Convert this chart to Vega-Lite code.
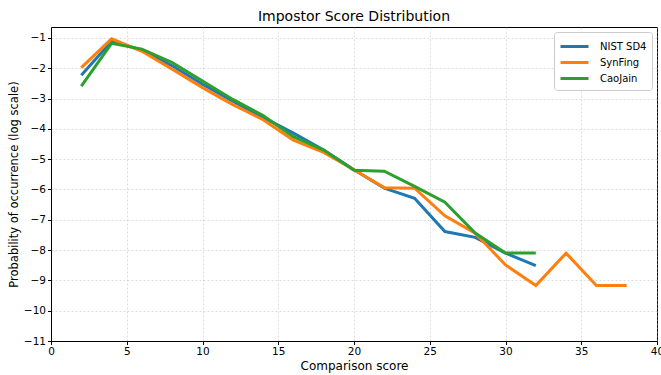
{
  "$schema": "https://vega.github.io/schema/vega-lite/v6.json",
  "width": 606,
  "height": 314,
  "autosize": "none",
  "padding": {"left": 51, "top": 27, "right": 4, "bottom": 34},
  "background": "white",
  "title": {"text": "Impostor Score Distribution", "fontSize": 14, "font": "DejaVu Sans", "fontWeight": "normal", "color": "#000", "offset": 3},
  "config": {
    "font": "DejaVu Sans",
    "view": {"stroke": "#000", "strokeWidth": 1}
  },
  "data": {"values": [
    {"s": "NIST SD4", "x": 2, "y": -2.23},
    {"s": "NIST SD4", "x": 4, "y": -1.11},
    {"s": "NIST SD4", "x": 6, "y": -1.4},
    {"s": "NIST SD4", "x": 8, "y": -1.92},
    {"s": "NIST SD4", "x": 10, "y": -2.53},
    {"s": "NIST SD4", "x": 12, "y": -3.09},
    {"s": "NIST SD4", "x": 14, "y": -3.62},
    {"s": "NIST SD4", "x": 16, "y": -4.14},
    {"s": "NIST SD4", "x": 18, "y": -4.7},
    {"s": "NIST SD4", "x": 20, "y": -5.35},
    {"s": "NIST SD4", "x": 22, "y": -5.96},
    {"s": "NIST SD4", "x": 24, "y": -6.29},
    {"s": "NIST SD4", "x": 26, "y": -7.39},
    {"s": "NIST SD4", "x": 28, "y": -7.58},
    {"s": "NIST SD4", "x": 30, "y": -8.1},
    {"s": "NIST SD4", "x": 32, "y": -8.51},
    {"s": "SynFing", "x": 2, "y": -1.98},
    {"s": "SynFing", "x": 4, "y": -1.03},
    {"s": "SynFing", "x": 6, "y": -1.44},
    {"s": "SynFing", "x": 8, "y": -2.03},
    {"s": "SynFing", "x": 10, "y": -2.64},
    {"s": "SynFing", "x": 12, "y": -3.2},
    {"s": "SynFing", "x": 14, "y": -3.7},
    {"s": "SynFing", "x": 16, "y": -4.37},
    {"s": "SynFing", "x": 18, "y": -4.78},
    {"s": "SynFing", "x": 20, "y": -5.35},
    {"s": "SynFing", "x": 22, "y": -5.94},
    {"s": "SynFing", "x": 24, "y": -5.96},
    {"s": "SynFing", "x": 26, "y": -6.87},
    {"s": "SynFing", "x": 28, "y": -7.44},
    {"s": "SynFing", "x": 30, "y": -8.49},
    {"s": "SynFing", "x": 32, "y": -9.17},
    {"s": "SynFing", "x": 34, "y": -8.1},
    {"s": "SynFing", "x": 36, "y": -9.17},
    {"s": "SynFing", "x": 38, "y": -9.17},
    {"s": "CaoJain", "x": 2, "y": -2.59},
    {"s": "CaoJain", "x": 4, "y": -1.18},
    {"s": "CaoJain", "x": 6, "y": -1.37},
    {"s": "CaoJain", "x": 8, "y": -1.81},
    {"s": "CaoJain", "x": 10, "y": -2.42},
    {"s": "CaoJain", "x": 12, "y": -3.03},
    {"s": "CaoJain", "x": 14, "y": -3.56},
    {"s": "CaoJain", "x": 16, "y": -4.26},
    {"s": "CaoJain", "x": 18, "y": -4.7},
    {"s": "CaoJain", "x": 20, "y": -5.37},
    {"s": "CaoJain", "x": 22, "y": -5.4},
    {"s": "CaoJain", "x": 24, "y": -5.9},
    {"s": "CaoJain", "x": 26, "y": -6.42},
    {"s": "CaoJain", "x": 28, "y": -7.44},
    {"s": "CaoJain", "x": 30, "y": -8.1},
    {"s": "CaoJain", "x": 32, "y": -8.1}
  ]},
  "mark": {"type": "line", "strokeWidth": 3, "clip": true},
  "encoding": {
    "x": {
      "field": "x", "type": "quantitative",
      "scale": {"domain": [0, 40], "nice": false, "zero": false},
      "axis": {
        "title": "Comparison score", "titleFontSize": 12, "titleFontWeight": "normal", "titleColor": "#000", "titlePadding": 3,
        "values": [0, 5, 10, 15, 20, 25, 30, 35, 40],
        "labelFontSize": 10.5, "labelColor": "#000", "labelPadding": 2, "labelFlush": false,
        "tickColor": "#000", "tickSize": 3.5, "domainColor": "#000",
        "grid": true, "gridColor": "#b0b0b0", "gridDash": [2, 2], "gridOpacity": 0.55, "gridWidth": 0.8
      }
    },
    "y": {
      "field": "y", "type": "quantitative",
      "scale": {"domain": [-11, -0.64], "nice": false, "zero": false},
      "axis": {
        "title": "Probability of occurrence (log scale)", "titleFontSize": 11.5, "titleFontWeight": "normal", "titleColor": "#000", "titlePadding": 4,
        "values": [-11, -10, -9, -8, -7, -6, -5, -4, -3, -2, -1],
        "labelFontSize": 10.5, "labelColor": "#000", "labelPadding": 2, "labelFlush": false,
        "tickColor": "#000", "tickSize": 3.5, "domainColor": "#000",
        "grid": true, "gridColor": "#b0b0b0", "gridDash": [2, 2], "gridOpacity": 0.55, "gridWidth": 0.8
      }
    },
    "color": {
      "field": "s", "type": "nominal",
      "scale": {"domain": ["NIST SD4", "SynFing", "CaoJain"], "range": ["#1f77b4", "#ff7f0e", "#2ca02c"]},
      "legend": {
        "title": null, "orient": "top-right", "offset": 5,
        "fillColor": "white", "strokeColor": "#cccccc", "cornerRadius": 3, "padding": 5,
        "symbolType": "M-1.75,0H1.75", "symbolSize": 256, "symbolStrokeWidth": 3, "symbolOffset": 6,
        "labelFontSize": 10, "labelColor": "#000", "labelOffset": 16, "rowPadding": 0
      }
    }
  }
}
